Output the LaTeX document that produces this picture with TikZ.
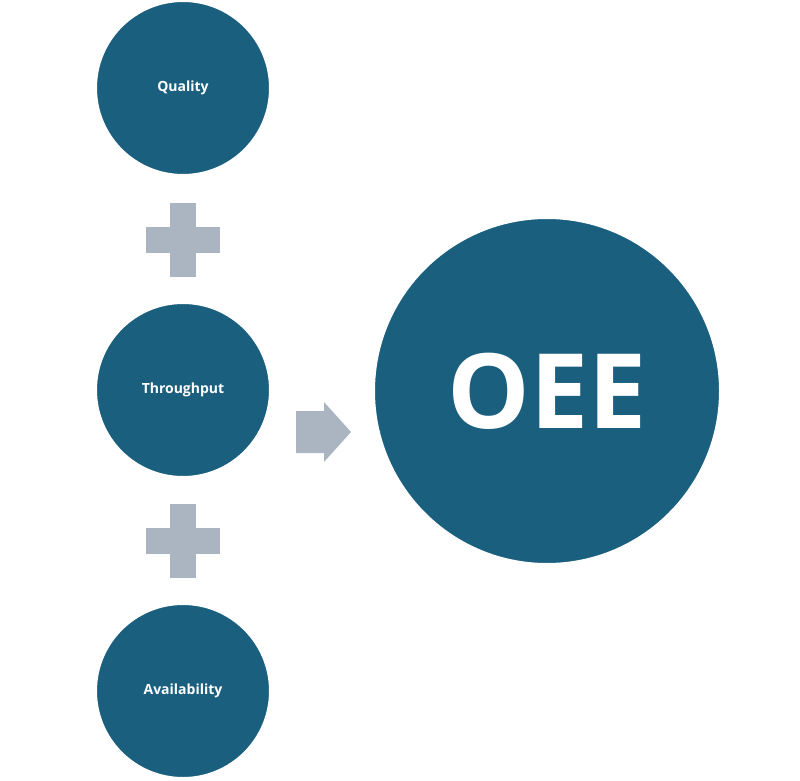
\documentclass[tikz,border=0pt]{standalone}
\usepackage{fontspec}
\setmainfont{Open Sans}
\definecolor{teal}{HTML}{1A5F7E}
\definecolor{plusgray}{HTML}{ABB5C1}
\begin{document}
\begin{tikzpicture}[x=1pt,y=-1pt,
  small/.style={circle,fill=teal,draw=white,line width=2pt,minimum size=174pt,inner sep=0pt,text=white,font=\bfseries\fontsize{14}{16}\selectfont},
  big/.style={circle,fill=teal,draw=white,line width=2pt,minimum size=346pt,inner sep=0pt,text=white,font=\bfseries\fontsize{104}{110}\selectfont},
  plusarm/.style={fill=plusgray}]
\useasboundingbox (0,0) rectangle (800,781);
\node[small] (q) at (183,88) {Quality};
\node[small] (t) at (183,390) {Throughput};
\node[small] (a) at (183,691) {Availability};
\node[big] (o) at (547,391) {OEE};
\foreach \n/\y in {p1/240,p2/541}{
  \coordinate (\n) at (183,\y);
  \fill[plusarm] ([xshift=-37pt,yshift=-13pt]\n) rectangle ([xshift=37pt,yshift=13pt]\n);
  \fill[plusarm] ([xshift=-13pt,yshift=-37pt]\n) rectangle ([xshift=13pt,yshift=37pt]\n);
}
\coordinate (ar) at (296,390);
\fill[plusgray] ([yshift=-21pt]ar) -- ++(28,0) -- ++(0,-9) -- ++(27,30) -- ++(-27,30) -- ++(0,-9) -- ++(-28,0) -- cycle;
\end{tikzpicture}
\end{document}
